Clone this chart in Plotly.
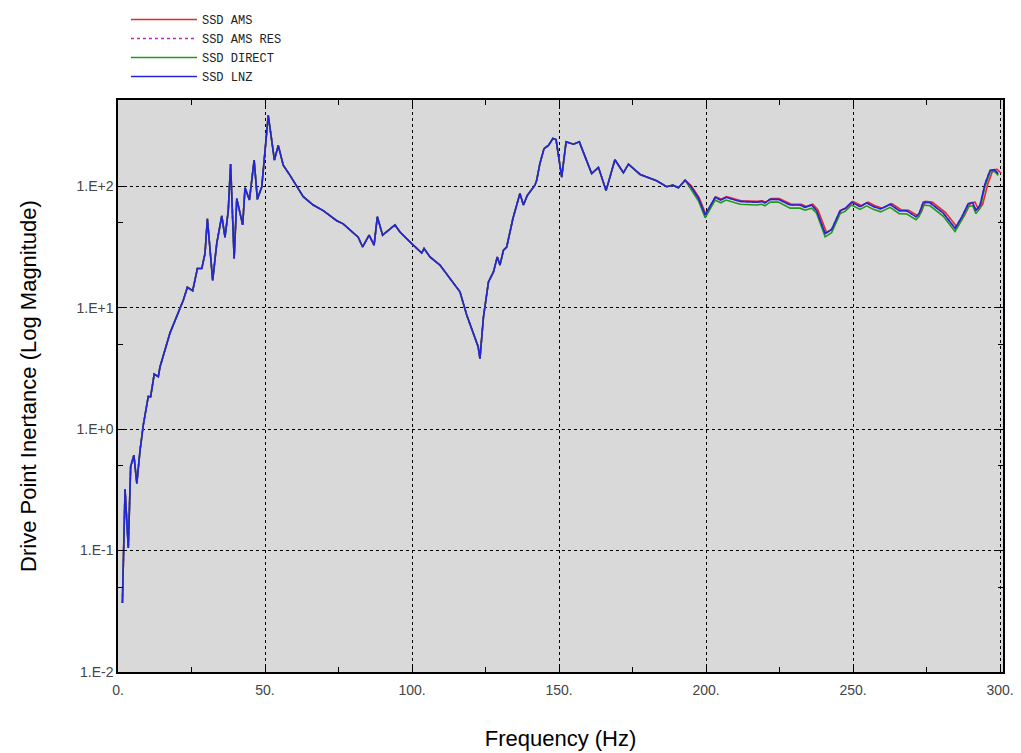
import plotly.graph_objects as go

# ---------------- data ----------------
freq_common = [1.5, 2.4, 3.5, 4.3, 5.4, 6.4, 7.5, 8.6, 10.3, 11.1, 12.0, 12.3, 13.7, 14.3,
               17.7, 22.2, 23.6, 25.4, 27.0, 28.5, 29.6, 30.4, 32.2, 33.6, 35.3, 36.4,
               37.5, 38.3, 39.5, 40.4, 42.4, 43.2, 44.7, 46.3, 47.4, 48.9, 51.1, 53.2,
               54.5, 56.2, 58.5, 60.8, 63.0, 66.4, 69.8, 74.4, 76.6, 81.7, 83.2, 85.4,
               87.1, 88.2, 90.0, 94.2, 95.9, 99.9, 103.3, 104.1, 106.1, 109.5, 114.6,
               116.3, 118.6, 121.4, 122.5, 123.1, 124.3, 126.0, 127.7, 129.0, 129.9,
               131.1, 132.2, 134.3, 136.7, 137.9, 139.2, 141.8, 142.4, 143.5, 144.9,
               146.4, 147.9, 149.0, 150.9, 152.4, 154.9, 156.9, 161.1, 163.4, 166.0,
               169.0, 171.9, 173.6, 177.6, 183.2, 186.6, 188.7, 190.6, 192.9]
val_common = [0.037, 0.32, 0.105, 0.49, 0.61, 0.357, 0.67, 1.08, 1.86, 1.85, 2.53, 2.84, 2.7, 3.26,
              6.2, 11.5, 14.7, 13.8, 21, 21, 28, 54, 16.8, 34, 57, 38,
              63, 152, 25.4, 79, 48, 97, 77, 164, 78, 99, 384, 164,
              217, 149, 123, 99, 82, 70, 63, 52, 49, 38, 31.6, 39.5,
              32.7, 56, 39.5, 48, 42, 33.7, 28.2, 30.7, 26.2, 22.4, 15.3,
              13.5, 8.7, 5.76, 4.76, 3.8, 8.4, 16.3, 19.7, 26.2, 22.4,
              29.7, 31.6, 54, 87, 70, 84, 102, 112, 154, 204,
              217, 247, 242, 119, 232, 222, 232, 127, 143, 92,
              165, 129, 152, 125, 111, 99, 102, 97, 112]

freq_tail = [194.8, 197.4, 199.7, 203.1, 205.0, 206.8, 211.6, 217.2, 218.9, 220.0, 221.8,
             224.6, 228.6, 232.0, 233.7, 235.9, 237.6, 240.5, 242.7, 245.6, 247.3, 249.5,
             252.4, 254.6, 256.9, 259.4, 262.6, 265.7, 268.3, 271.4, 272.5, 273.9, 276.2,
             280.7, 284.7, 287.0, 289.2, 290.7, 291.8, 293.2, 294.9, 296.6, 298.0, 299.4]
lnz_tail = [100, 80, 58, 81, 77, 81, 75, 74, 75, 73, 78,
            78, 70, 70, 67, 70, 63, 40.7, 44, 63, 65.5, 74,
            68, 73, 68, 65, 71, 63, 62.7, 56, 60, 74, 73,
            60, 45, 56, 72, 73, 63, 70, 105, 135, 137, 127]

ams_freq_tail = [195.0, 197.6, 199.9, 203.3, 205.2, 207.0, 211.9, 217.5, 219.2, 220.3, 222.1,
                 224.9, 229.0, 232.4, 234.1, 236.3, 238.0, 241.0, 243.2, 246.1, 247.8, 250.0,
                 252.9, 255.1, 257.5, 260.0, 263.2, 266.3, 268.9, 272.1, 273.2, 274.6, 276.9,
                 281.4, 285.4, 287.8, 290.0, 291.5, 292.7, 294.1, 295.9, 297.6, 299.0, 300.4]
ams_tail = [101, 81, 59, 82, 78, 82, 76, 75, 76, 74, 79,
            79, 71, 71, 68, 71, 64, 41.5, 45, 64, 66.5, 75,
            69, 74, 69, 66, 72, 64, 63.5, 57, 61, 75, 74,
            61, 46, 57, 73, 74, 64, 71, 106, 136, 138, 128]

direct_tail = [96, 76, 55, 77, 73, 77, 71, 70, 71, 69, 74,
               74, 66, 66, 63.5, 66, 60, 38.3, 41.5, 59.5, 62, 70,
               64.5, 69, 64.5, 61.5, 67, 59.5, 59, 53, 56.5, 70, 69,
               56.5, 42.3, 53, 68, 69, 59.5, 66, 100, 130, 133, 123]

series_names = ["SSD AMS", "SSD AMS RES", "SSD DIRECT", "SSD LNZ"]
x_tick_vals = [0, 50, 100, 150, 200, 250, 300]
x_tick_text = ["0.", "50.", "100.", "150.", "200.", "250.", "300."]
y_tick_vals = [0.01, 0.1, 1, 10, 100]
y_tick_text = ["1.E-2", "1.E-1", "1.E+0", "1.E+1", "1.E+2"]

# ---------------- figure ----------------
series = [
    (series_names[0], freq_common + ams_freq_tail, val_common + ams_tail, "#e8282a", "solid"),
    (series_names[1], freq_common + freq_tail, val_common + lnz_tail, "#b030b8", "dot"),
    (series_names[2], freq_common + freq_tail, val_common + direct_tail, "#1f9a1f", "solid"),
    (series_names[3], freq_common + freq_tail, val_common + lnz_tail, "#2424d8", "solid"),
]

fig = go.Figure()
for name, xs, ys, col, dash in series:
    fig.add_trace(go.Scatter(x=xs, y=ys, mode="lines", name=name,
                             line=dict(color=col, width=1.6, dash=dash)))

tickfont = dict(family="Liberation Sans, Arial, sans-serif", size=14, color="#444444")

fig.update_layout(
    width=1021, height=753,
    margin=dict(l=110, r=26, t=92, b=89, autoexpand=False),
    paper_bgcolor="white",
    plot_bgcolor="#d9d9d9",
    showlegend=True,
    legend=dict(x=0.009, y=1.166, xanchor="left", yanchor="top",
                font=dict(family="Liberation Mono, Courier New, monospace", size=12, color="#222222"),
                itemwidth=66, tracegroupgap=0, bgcolor="rgba(0,0,0,0)"),
    xaxis=dict(
        range=[0, 301], tickmode="array", tickvals=x_tick_vals, ticktext=x_tick_text,
        tickfont=tickfont, ticks="inside", ticklen=7, tickcolor="black",
        ticklabelstandoff=4,
        showline=True, linecolor="black", linewidth=1.5, mirror="ticks",
        showgrid=True, gridcolor="black", griddash="dot", gridwidth=1,
        zeroline=False,
        minor=dict(tickvals=[25, 75, 125, 175, 225, 275], ticks="inside", ticklen=5,
                   tickcolor="black", showgrid=False),
        title=dict(text="Frequency (Hz)", font=dict(family="Liberation Sans, Arial, sans-serif",
                                                     size=22, color="black"), standoff=34),
    ),
    yaxis=dict(
        type="log", range=[-2, 2.71], tickmode="array", tickvals=y_tick_vals, ticktext=y_tick_text,
        tickfont=tickfont, ticks="inside", ticklen=7, tickcolor="black",
        showline=True, linecolor="black", linewidth=1.5, mirror="ticks",
        showgrid=True, gridcolor="black", griddash="dot", gridwidth=1,
        zeroline=False,
        minor=dict(tickvals=[0.05, 0.5, 5, 50], ticks="inside", ticklen=5,
                   tickcolor="black", showgrid=False),
        title=dict(text="Drive Point Inertance (Log Magnitude)",
                   font=dict(family="Liberation Sans, Arial, sans-serif", size=22, color="black"),
                   standoff=34),
    ),
)

fig.write_html("out.html")
